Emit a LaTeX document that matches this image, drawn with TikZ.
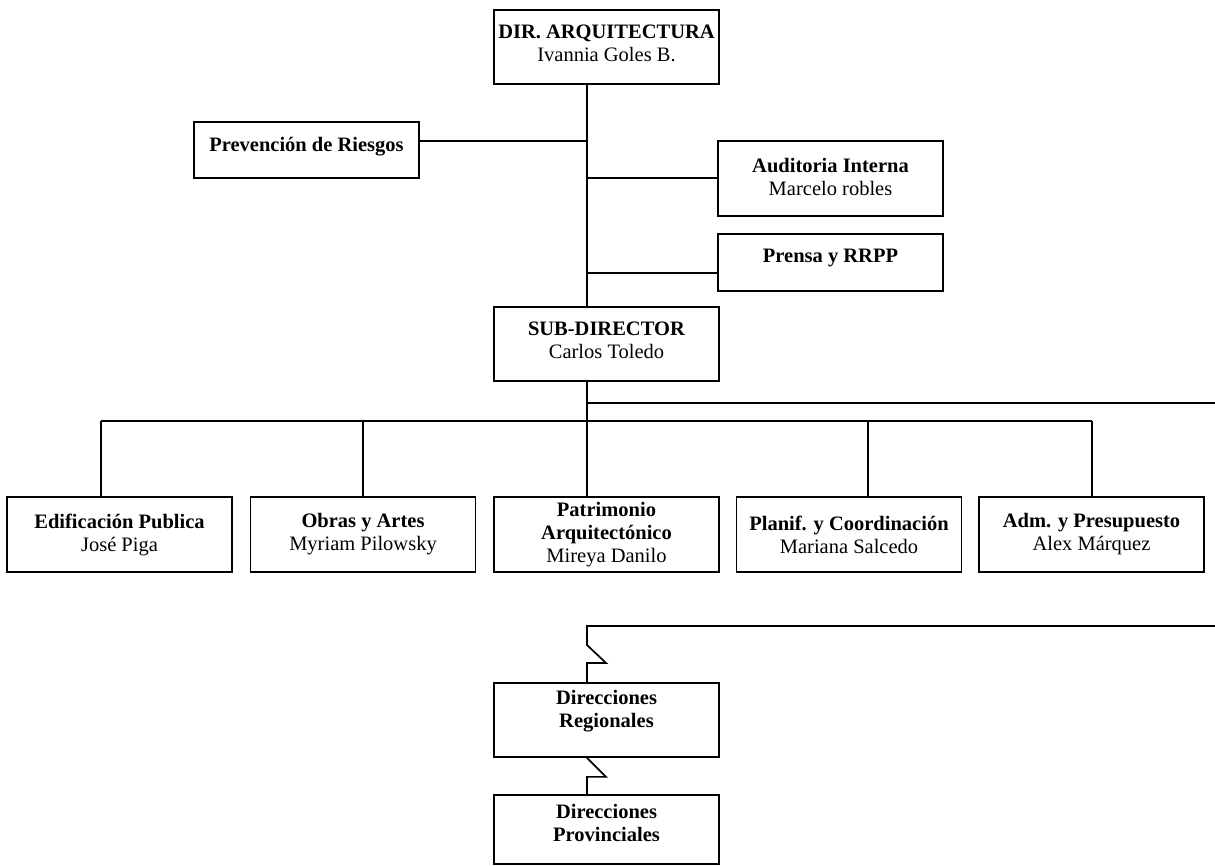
\documentclass[tikz,border=0pt]{standalone}
\usepackage{fontspec}
\setmainfont{Liberation Serif}
\usetikzlibrary{calc}
\begin{document}
\begin{tikzpicture}[x=1pt,y=-1pt,
  box/.style={draw, line width=1.7pt, inner sep=0pt, minimum width=225pt, align=center,
    font=\fontsize{20.5}{23}\selectfont},
  conn/.style={line width=1.7pt}]
\useasboundingbox (0,0) rectangle (1215,866);
% boxes
\node[box, minimum height=74pt] (dir) at (606.5,47) {\textbf{DIR. ARQUITECTURA}\\Ivannia Goles B.\\[-16pt]\mbox{}};
\node[box, minimum height=56pt] (prev) at (306.5,150) {\textbf{Prevención de Riesgos}\\[-12pt]\mbox{}};
\node[box, minimum height=75pt] (aud) at (830.5,178.5) {\textbf{Auditoria Interna}\\Marcelo robles\\[-19pt]\mbox{}};
\node[box, minimum height=57pt] (pren) at (830.5,262.5) {\textbf{Prensa y RRPP}\\[-10pt]\mbox{}};
\node[box, minimum height=74pt] (sub) at (606.5,344) {\textbf{SUB-DIRECTOR}\\Carlos Toledo\\[-16pt]\mbox{}};
\node[box, minimum height=75pt] (edif) at (119.5,534.5) {\textbf{Edificación Publica}\\José Piga};
\node[box, minimum height=75pt] (obras) at (363,534.5) {\textbf{Obras y Artes}\\Myriam Pilowsky};
\node[box, minimum height=75pt] (patr) at (606.5,534.5) {\textbf{Patrimonio}\\\textbf{Arquitectónico}\\Mireya Danilo};
\node[box, minimum height=75pt] (plan) at (849,534.5) {\textbf{Planif. y Coordinación}\\Mariana Salcedo};
\node[box, minimum height=75pt] (adm) at (1091.5,534.5) {\textbf{Adm. y Presupuesto}\\Alex Márquez};
\node[box, minimum height=74pt] (reg) at (606.5,720) {\textbf{Direcciones}\\\textbf{Regionales}\\\mbox{}};
\node[box, minimum height=69pt] (prov) at (606.5,829.5) {\textbf{Direcciones}\\\textbf{Provinciales}\\[-10pt]\mbox{}};
% helper coordinates
\coordinate (t) at (587,0);
\coordinate (j1) at (587,403);
\coordinate (e1) at (1215,403);
\coordinate (bl) at (101,421);
\coordinate (br) at (1092,421);
\coordinate (pl) at (868,421);
\coordinate (j2) at (587,626);
\coordinate (e2) at (1215,626);
% connectors
\draw[conn] (dir.south -| t) -- (sub.north -| t);
\draw[conn] ($(prev.east)+(0,-9)$) -- ($(prev.east -| t)+(0,-9)$);
\draw[conn] ($(aud.west)+(0,-0.5)$) -- ($(aud.west -| t)+(0,-0.5)$);
\draw[conn] ($(pren.west)+(0,10.5)$) -- ($(pren.west -| t)+(0,10.5)$);
\draw[conn] (sub.south -| t) -- (patr.north -| t);
\draw[conn] (j1) -- (e1);
\draw[conn] (bl) -- (br);
\draw[conn] (bl) -- (bl |- edif.north);
\draw[conn] (obras.north |- bl) -- (obras.north);
\draw[conn] (pl) -- (pl |- plan.north);
\draw[conn] (br) -- (br |- adm.north);
\draw[conn] (e2) -- (j2) -- ++(0,19) -- ++(19,18) -- ++(-19,0) -- (reg.north -| t);
\draw[conn] (reg.south -| t) -- ++(19,19) -- ++(-19,0) -- (prov.north -| t);
\end{tikzpicture}
\end{document}
